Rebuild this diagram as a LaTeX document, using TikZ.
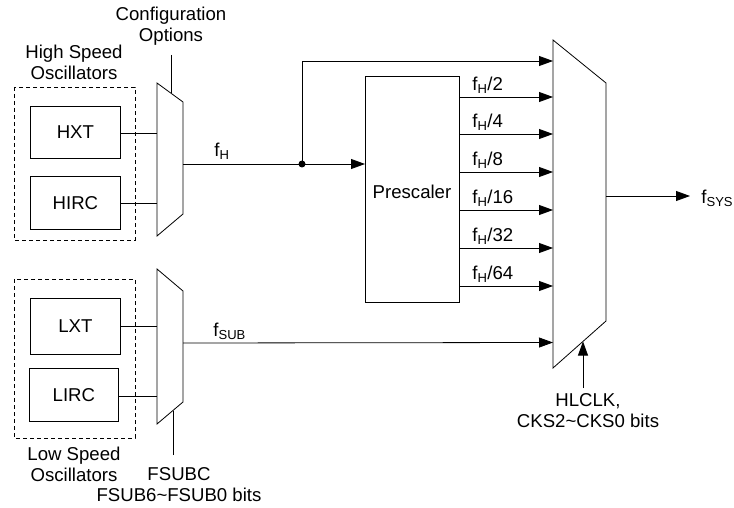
\documentclass[tikz,border=0pt]{standalone}
\usepackage{fontspec}
\setmainfont{Liberation Sans}
\usetikzlibrary{arrows.meta}
\begin{document}
\begin{tikzpicture}[x=1pt,y=-1pt,
  line width=0.8pt,
  every node/.style={font=\fontsize{18.6}{21}\selectfont, inner sep=0pt},
  box/.style={draw, rectangle, anchor=north west},
  grp/.style={draw, dash pattern=on 4pt off 3pt, line width=0.7pt},
  mux/.style={draw, line width=0.8pt, fill=white},
  arr/.style={-{Triangle[length=14pt,width=10pt]}},
  lbl/.style={align=center},
  sig/.style={anchor=south west}]
\useasboundingbox (0,0) rectangle (734,508);

% group boxes
\draw[grp] (14,87) rectangle (135,240);
\draw[grp] (14,279) rectangle (135,438);

% oscillator boxes
\node[box, minimum width=90pt, minimum height=52pt] (hxt) at (30,106) {};
\node at (hxt.center) {HXT};
\node[box, minimum width=90pt, minimum height=53pt] (hirc) at (30,176) {};
\node at (hirc.center) {HIRC};
\node[box, minimum width=90pt, minimum height=56pt] (lxt) at (30,298) {};
\node at (lxt.center) {LXT};
\node[box, minimum width=89pt, minimum height=53pt] (lirc) at (29,368) {};
\node at (lirc.center) {LIRC};

% mux 1
\coordinate (m1a) at (157,83);
\coordinate (m1b) at (183,102);
\coordinate (m1c) at (183,214);
\coordinate (m1d) at (157,236);
\draw[mux] (m1a) -- (m1b) -- (m1c) -- (m1d) -- cycle;
\coordinate (m1out) at (183,164);
\coordinate (m1ctl) at (171,93.2);

% mux 2
\coordinate (m2a) at (157,269);
\coordinate (m2b) at (183,291);
\coordinate (m2c) at (183,402);
\coordinate (m2d) at (157,424);
\draw[mux] (m2a) -- (m2b) -- (m2c) -- (m2d) -- cycle;
\coordinate (m2out) at (183,343);
\coordinate (m2ctl) at (173,410.5);

% mux 3
\coordinate (m3a) at (553,40);
\coordinate (m3b) at (606,83);
\coordinate (m3c) at (606,321);
\coordinate (m3d) at (553,368);
\draw[mux] (m3a) -- (m3b) -- (m3c) -- (m3d) -- cycle;
\coordinate (m3out) at (606,196);
\coordinate (m3ctl) at (583,341.5);

% prescaler
\node[box, minimum width=94pt, minimum height=226pt] (pre) at (365,76) {};
\node at (412,192) {Prescaler};

% oscillator to mux connectors
\draw (hxt.east |- 0,133) -- (157,133);
\draw (hirc.east |- 0,203) -- (157,203);
\draw (lxt.east |- 0,326) -- (157,326);
\draw (lirc.east |- 0,396) -- (157,396);

% control lines
\coordinate (c1) at (171,55);
\draw (c1) -- (m1ctl);
\coordinate (c2) at (173,455);
\draw (c2) -- (m2ctl);
\coordinate (c3) at (583,388);
\draw[arr] (c3) -- (m3ctl);

% f_H path
\coordinate (jn) at (302,164);
\draw (m1out) -- (jn);
\draw[arr] (jn) -- (pre.west |- jn);
\draw[arr] (jn) -- (302,61) -- (553,61);
\fill (jn) circle (3.5pt);
\node[anchor=south] at (222,160) {f\textsubscript{H}};

% prescaler outputs
\foreach \y/\t in {97/2,134/4,172/8,210/16,248/32,286/64}{
  \draw[arr] (pre.east |- 0,\y) -- (553,\y);
  \node[sig] at (472,\y-3) {f\textsubscript{H}/\t};
}

% f_SUB
\draw[arr] (m2out) -- (553,342.5);
\node[sig] at (213,340) {f\textsubscript{SUB}};

% f_SYS
\coordinate (fsys) at (690,196);
\draw[arr] (m3out) -- (fsys);
\node[anchor=west] at (701,198) {f\textsubscript{SYS}};

% labels
\node[lbl] at (171,26) {Configuration\\Options};
\node[lbl] at (74,62) {High Speed\\Oscillators};
\node[lbl] at (74,464) {Low Speed\\Oscillators};
\node[lbl] at (179,485) {FSUBC\\FSUB6\textasciitilde FSUB0 bits};
\node[lbl] at (588,411) {HLCLK,\\CKS2\textasciitilde CKS0 bits};
\end{tikzpicture}
\end{document}
